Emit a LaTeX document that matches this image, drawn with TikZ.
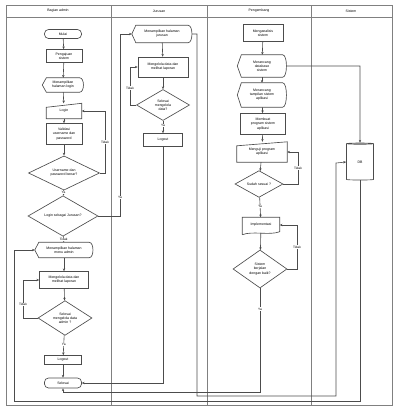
\documentclass[tikz,border=0pt]{standalone}
\usepackage{fontspec}
\setmainfont{Liberation Sans}
\usetikzlibrary{shapes.geometric,arrows.meta}
\tikzset{
  lane/.style={draw=black!50, line width=1pt},
  shp/.style={draw=black!70, line width=0.65pt},
  box/.style={rectangle, align=center, inner sep=0pt},
  proc/.style={box, shp},
  term/.style={box, shp, rounded corners=4pt},
  dec/.style={diamond, shp, align=center, inner sep=0pt},
  db/.style={cylinder, shape border rotate=90, aspect=0.25, shp, inner sep=0pt},
  conn/.style={draw=black!70, line width=0.6pt, -{Stealth[length=2.8pt,width=2.4pt]}},
  lab/.style={font=\fontsize{3.2}{3.6}\selectfont, fill=white, inner sep=0.5pt},
}
\newcommand\disppath[1]{\draw[shp] (#1.west) -- ([xshift=4pt]#1.north west) -- ([xshift=-4pt]#1.north east) .. controls ([xshift=1pt]#1.north east) and ([xshift=1pt]#1.south east) .. ([xshift=-4pt]#1.south east) -- ([xshift=4pt]#1.south west) -- cycle;}
\newcommand\manpath[1]{\draw[shp] (#1.south west) -- (#1.south east) -- (#1.north east) -- ([yshift=-4pt]#1.north west) -- cycle;}
\newcommand\docpath[1]{\draw[shp] ([yshift=-2pt]#1.south west) -- (#1.north west) -- (#1.north east) -- ([yshift=1pt]#1.south east) .. controls ([xshift=-10pt,yshift=-3pt]#1.south east) and ([xshift=10pt,yshift=2pt]#1.south west) .. ([yshift=-2pt]#1.south west);}
\begin{document}
\begin{tikzpicture}[x=1pt,y=-1pt,font=\fontsize{3.5}{4.1}\selectfont]
\useasboundingbox (0,0) rectangle (395,408);
% swimlanes
\draw[lane] (6,5) rectangle (392,405);
\draw[lane] (6,17) -- (392,17);
\draw[lane] (111,5) -- (111,405);
\draw[lane] (207,5) -- (207,405);
\draw[lane] (311,5) -- (311,405);
\node (h1) at (58,11) {Bagian admin};
\node (h2) at (159,11) {Jurusan};
\node (h3) at (259,11) {Pengembang};
\node (h4) at (351,11) {Sistem};

% lane 1
\node[term, minimum width=37pt, minimum height=9pt] (s1) at (63,34) {Mulai};
\node[proc, minimum width=36pt, minimum height=13pt] (p1) at (64,56) {Pengajuan\\sistem};
\node[box, minimum width=41pt, minimum height=14pt] (ds1) at (63,85) {Menampilkan\\halaman login};
\disppath{ds1}
\node[box, minimum width=35pt, minimum height=15pt] (m1) at (64,111) {Login};
\manpath{m1}
\node[proc, minimum width=36pt, minimum height=21pt] (p2) at (64,134) {Validasi\\username dan\\password};
\node[dec, minimum width=71pt, minimum height=30pt] (dc1) at (64,173) {Username dan\\password benar?};
\node[dec, minimum width=70pt, minimum height=28pt] (dc2) at (63,216) {Login sebagai Jurusan?};
\node[box, minimum width=58pt, minimum height=15pt] (ds2) at (64,250) {Menampilkan halaman\\menu admin};
\disppath{ds2}
\node[proc, minimum width=49pt, minimum height=17pt] (p3) at (64,280) {Mengelola data dan\\melihat laporan};
\node[dec, minimum width=54pt, minimum height=31pt] (dc3) at (65,318) {Selesai\\mengelola data\\admin ?};
\node[proc, minimum width=37pt, minimum height=9pt] (lo1) at (63,360) {Logout};
\node[term, minimum width=37pt, minimum height=10pt] (e1) at (63,383) {Selesai};

% lane 2
\node[box, minimum width=60pt, minimum height=17pt] (ds3) at (162,34) {Menampilkan halaman\\jurusan};
\disppath{ds3}
\node[proc, minimum width=50pt, minimum height=20pt] (p4) at (163,67) {Mengelola data dan\\melihat laporan};
\node[dec, minimum width=53pt, minimum height=31pt] (dc4) at (163,105) {Selesai\\mengelola\\data?};
\node[proc, minimum width=39pt, minimum height=13pt] (lo2) at (163,140) {Logout};

% lane 3
\node[proc, minimum width=40pt, minimum height=17pt] (p5) at (263,33) {Menganalisis\\sistem};
\node[box, minimum width=49pt, minimum height=22pt] (ds4) at (262,66) {Merancang\\database\\sistem};
\disppath{ds4}
\node[box, minimum width=49pt, minimum height=24pt] (ds5) at (262,95) {Merancang\\tampilan sistem\\aplikasi};
\disppath{ds5}
\node[proc, minimum width=45pt, minimum height=21pt] (p6) at (263,124) {Membuat\\program sistem\\aplikasi};
\node[box, minimum width=50pt, minimum height=20pt] (m2) at (262,152) {Menguji program\\aplikasi};
\manpath{m2}
\node[dec, minimum width=48pt, minimum height=18pt] (dc5) at (259,184) {Sudah sesuai ?};
\node[box, minimum width=37pt, minimum height=15pt] (doc) at (261,225) {Implementasi};
\docpath{doc}
\node[dec, minimum width=54pt, minimum height=38pt] (dc6) at (260,269) {Sistem\\berjalan\\dengan baik?};

% lane 4
\node[db, minimum width=27pt, minimum height=37pt] (dbs) at (360,162) {DB};

% connectors lane 1
\draw[conn] (s1) -- (p1);
\draw[conn] (p1) -- (ds1);
\draw[conn] (ds1) -- (m1);
\draw[conn] (m1) -- (p2);
\draw[conn] (p2) -- (dc1);
\draw[conn] (dc1) -- node[lab, pos=0.45] {Ya} (dc2);
\draw[conn] (dc1.east) -- (105,173) -- node[lab, pos=0.5] {Tidak} (105,111) -- (m1.east);
\draw[conn] (dc2) -- node[lab, pos=0.5] {Tidak} (ds2);
\draw[conn] (dc2.east) -- (120,216) -- node[lab, pos=0.1] {Ya} (120,34) -- (ds3.west);
\draw[conn] (ds2) -- (p3);
\draw[conn] (p3) -- (dc3);
\draw[conn] (dc3.west) -- (23,318) -- node[lab, pos=0.35] {Tidak} (23,280) -- (p3.west);
\draw[conn] (dc3) -- node[lab, pos=0.45] {Ya} (lo1);
\draw[conn] (lo1) -- (e1);

% lane 2
\draw[conn] (ds3) -- (p4);
\draw[conn] (p4) -- (dc4);
\draw[conn] (dc4.west) -- (130,105) -- node[lab, pos=0.45] {Tidak} (130,67) -- (p4.west);
\draw[conn] (dc4) -- node[lab, pos=0.4] {Ya} (lo2);
\draw[conn] (lo2.south) -- (163,383) -- (e1.east);

% lane 3
\draw[conn] (p5) -- (ds4);
\draw[conn] (ds4) -- (ds5);
\draw[conn] (ds5) -- (p6);
\draw[conn] (p6) -- (m2);
\draw[conn] (m2) -- (dc5);
\draw[conn] (dc5.east) -- (298,184) -- node[lab, pos=0.5] {Tidak} (298,152) -- (m2.east);
\draw[conn] (dc5) -- node[lab, pos=0.45] {Ya} (doc);
\draw[conn] (doc) -- (dc6);
\draw[conn] (dc6.east) -- (297,269) -- node[lab, pos=0.5] {Tidak} (297,225) -- (doc.east);
\draw[conn] (dc6.south) -- node[lab, pos=0.2] {Ya} (260,392) -- (63,392) -- (e1.south);

% database links
\draw[conn] (ds4.east) -- (360,66) -- (dbs.north);
\draw[conn] (ds3.east) -- (197,34) -- (197,396) -- (336,396) -- (336,163) -- (dbs.west);
\draw[conn] (dbs.south) -- (360,401) -- (14,401) -- (14,250) -- (ds2.west);
\end{tikzpicture}
\end{document}
